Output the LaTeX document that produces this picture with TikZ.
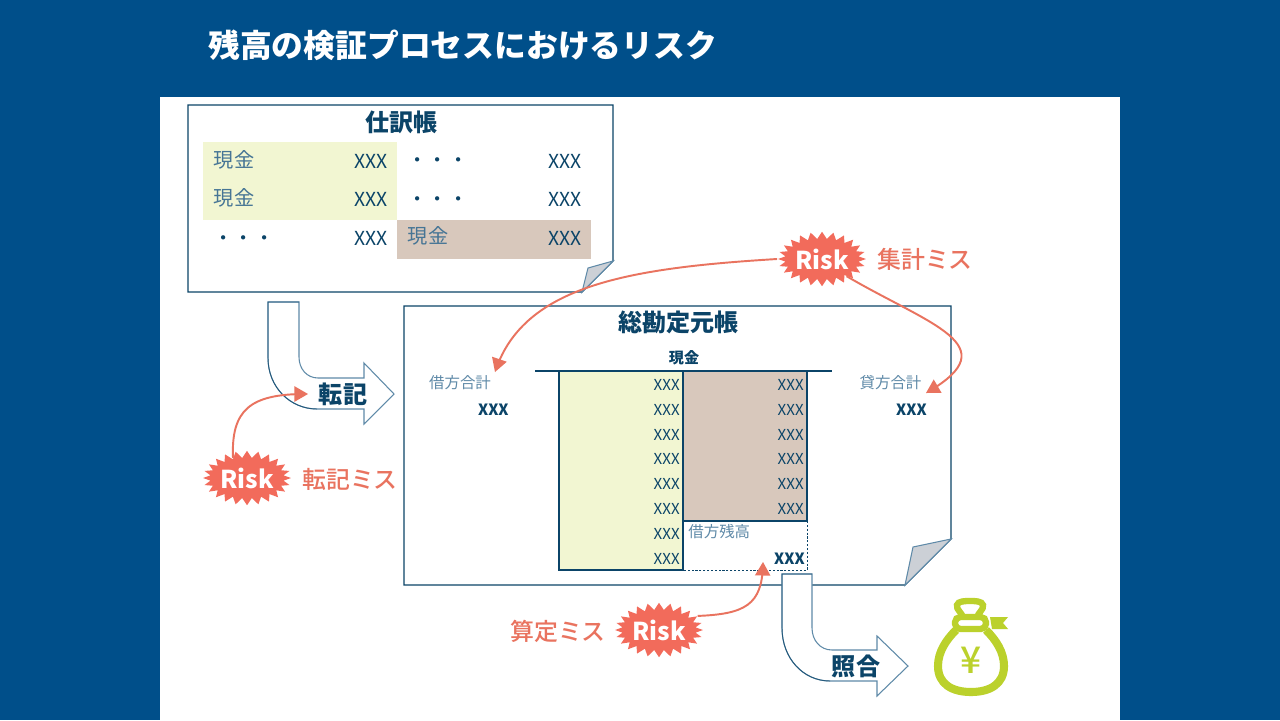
\documentclass[tikz,border=0pt]{standalone}
\usepackage{fontspec}
\setmainfont{Noto Sans CJK JP}
\newfontfamily\medfont{Noto Sans CJK JP Medium}
\usepackage{tikz}
\usetikzlibrary{arrows,shapes.symbols}
\definecolor{navyback}{HTML}{004F8A}
\definecolor{inkblue}{HTML}{0B4468}
\definecolor{softblue}{HTML}{5F8AA8}
\definecolor{palegreen}{HTML}{F2F6D2}
\definecolor{palebrown}{HTML}{D8C8BC}
\definecolor{foldgray}{HTML}{CCD0D6}
\definecolor{riskred}{HTML}{F26B5B}
\definecolor{riskline}{HTML}{E9735F}
\definecolor{baggreen}{HTML}{BBD12C}
\tikzset{
  amount/.style={anchor=east,inner sep=0pt,text=inkblue,font=\fontsize{11}{13}\selectfont},
  small amount/.style={anchor=east,inner sep=0pt,text=inkblue,font=\fontsize{8.6}{10}\selectfont},
  strong amount/.style={anchor=east,inner sep=0pt,text=inkblue,font=\fontsize{8.8}{10}\selectfont\bfseries},
  cash/.style={inner sep=0pt,text=softblue!70!inkblue,font=\fontsize{11.5}{13}\selectfont},
  side/.style={inner sep=0pt,text=softblue,font=\fontsize{8.8}{10}\selectfont},
  headline/.style={inner sep=0pt,text=inkblue,font=\fontsize{13.7}{16}\selectfont\bfseries},
  risk/.style={shape=starburst,starburst points=24,starburst point height=4pt,random starburst=0,
    fill=riskred,draw=none,minimum width=50pt,minimum height=31pt,inner sep=0pt},
  risktext/.style={inner sep=0pt,text=white,font=\fontsize{14}{16}\selectfont\bfseries},
  risklabel/.style={inner sep=0pt,text=riskline,font=\fontsize{13.6}{16}\medfont},
  riskarrow/.style={draw=riskline,line width=1.1pt,-triangle 60},
  page/.style={draw=inkblue,fill=white,line width=0.6pt},
  fold/.style={draw=softblue,fill=foldgray,line width=0.6pt},
  bent/.style={draw=softblue,fill=white,line width=0.6pt},
  bentedge/.style={draw=softblue!30!inkblue,line width=0.5pt},
  bag/.style={draw=baggreen,line width=4.6pt}
}
\begin{document}
\begin{tikzpicture}[x=0.02cm,y=-0.02cm]
\useasboundingbox (0,0) rectangle (1280,720);
%%%%% Background %%%%%
\fill[navyback] (0,0) rectangle (1280,720);
\fill[white] (160,97) rectangle (1120,720);
\node[inner sep=0pt,anchor=west,text=white,font=\fontsize{18.1}{22}\selectfont\bfseries] (title) at (208,45) {残高の検証プロセスにおけるリスク};

%%%%% Journal %%%%%
\draw[page] (188,105)--(613,105)--(613,261)--(582,292)--(188,292)--cycle;
\draw[fold] (613,261)--(588,268)--(582,292)--cycle;
\fill[palegreen] (203,142) rectangle (397,220);
\fill[palebrown] (397,220) rectangle (591,259);
\node[headline] (journal) at (401.5,122) {仕訳帳};
\node[cash] (cashA) at (234,160) {現金};
\node[cash] (cashB) at (234,198) {現金};
\node[cash] (cashC) at (428,236) {現金};
\node[cash,text=inkblue] (dotsA) at (244,241) {・・・};
\node[cash,text=inkblue] (dotsB) at (438,163) {・・・};
\node[cash,text=inkblue] (dotsC) at (438,202) {・・・};
\foreach \i/\y in {1/161,2/199,3/238}{
\node[amount] (jleft\i) at (388,\y) {XXX};
\node[amount] (jright\i) at (582,\y) {XXX};
}

%%%%% Ledger %%%%%
\draw[page] (404,306)--(951,306)--(951,539)--(905,585)--(404,585)--cycle;
\draw[fold] (951,539)--(913,547)--(905,585)--cycle;
\node[headline] (ledger) at (678.5,322) {総勘定元帳};
\node[inner sep=0pt,text=inkblue,font=\fontsize{8.6}{10}\selectfont\bfseries] (account) at (684,358) {現金};
\draw[draw=inkblue,fill=palegreen,line width=0.7pt] (559,371) rectangle (683,570);
\draw[draw=inkblue,fill=palebrown,line width=0.6pt] (683,371) rectangle (807,521);
\draw[draw=inkblue,dash pattern=on 1.2pt off 1pt,line width=0.55pt] (807,521)--(807,570)--(683,570);
\draw[draw=inkblue,line width=1.3pt] (535,371)--(832,371);
\draw[draw=inkblue,line width=1.1pt] (683,371)--(683,570);
\foreach \i/\y in {1/385,2/410,3/435,4/459,5/484,6/509,7/534,8/559}{
\node[small amount] (debit\i) at (680,\y) {XXX};
}
\foreach \i/\y in {1/385,2/410,3/435,4/459,5/484,6/509}{
\node[small amount] (credit\i) at (804,\y) {XXX};
}
\node[side,anchor=west] (balance) at (688,532) {借方残高};
\node[strong amount] (balanceval) at (805,559) {XXX};
\node[side] (debitsum) at (460,383) {借方合計};
\node[strong amount] (debitval) at (509,410) {XXX};
\node[side] (creditsum) at (890.5,383) {貸方合計};
\node[strong amount] (creditval) at (927,410) {XXX};

%%%%% Bent arrows %%%%%
\draw[bent] (268,302)--(299,302)--(299,357) .. controls (299,369) and (307,378) .. (318,378)
  --(364,378)--(364,363)--(394,394)--(364,424)--(364,409)--(317,409)
  .. controls (290,409) and (268,387) .. (268,358)--cycle;
\draw[bentedge] (299,302)--(268,302)--(268,358) .. controls (268,387) and (290,409) .. (317,409);
\node[headline] (posting) at (343,394) {転記};
\draw[bent] (782,574)--(812,574)--(812,628) .. controls (812,640) and (820,650) .. (832,650)
  --(877,650)--(877,636)--(908,666)--(877,696)--(877,681)--(830,681)
  .. controls (803,681) and (782,658) .. (782,628)--cycle;
\draw[bentedge] (812,574)--(782,574)--(782,628) .. controls (782,658) and (803,681) .. (830,681);
\node[headline] (matching) at (856,666) {照合};

%%%%% Money bag %%%%%
\draw[bag] (956,630) .. controls (946,640) and (938,652) .. (938,666) .. controls (938,684) and (952,692) .. (971,692)
  .. controls (990,692) and (1004,684) .. (1004,666) .. controls (1004,652) and (996,640) .. (986,630);
\draw[bag,line width=3.6pt] (963,618) .. controls (962,612) and (956,610) .. (957,605) .. controls (958,601) and (965,601) .. (970,601)
  .. controls (975,601) and (982,601) .. (983,605) .. controls (984,610) and (978,612) .. (977,618);
\draw[bag,line width=3.6pt,rounded corners=3pt] (955,617) rectangle (986,629);
\fill[baggreen] (990,617)--(1008,617)--(1003,623)--(1008,629)--(992,629)--cycle;
\node[inner sep=0pt,text=baggreen,font=\fontsize{21}{24}\selectfont\medfont] (yen) at (971,660) {¥};

%%%%% Risk %%%%%
\node[risk] (riskA) at (822,259) {};
\node[risk] (riskB) at (247,478) {};
\node[risk] (riskC) at (659,630) {};
\node[risktext] (riskAtext) at (riskA) {Risk};
\node[risktext] (riskBtext) at (riskB) {Risk};
\node[risktext] (riskCtext) at (riskC) {Risk};
\node[risklabel] (labelA) at (925,259) {集計ミス};
\node[risklabel] (labelB) at (350,479) {転記ミス};
\node[risklabel] (labelC) at (558,631) {算定ミス};
\coordinate (tipdebit) at (495,372);
\coordinate (tipcredit) at (926,393);
\coordinate (tippost) at (308,394);
\coordinate (tipcalc) at (763,562);
\draw[riskarrow] (riskA.west) .. controls (630,268) and (525,285) .. (tipdebit);
\draw[riskarrow] (riskA.-35) .. controls (930,325) and (1008,345) .. (tipcredit);
\draw[riskarrow] (riskB.125) .. controls (231,410) and (250,394) .. (tippost);
\draw[riskarrow] (riskC.20) .. controls (745,614) and (762,605) .. (tipcalc);
\end{tikzpicture}
\end{document}
